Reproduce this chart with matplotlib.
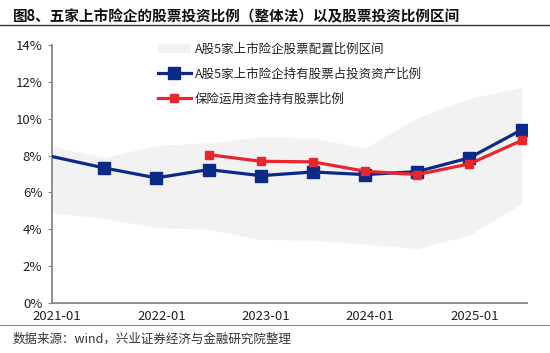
import matplotlib
matplotlib.use("Agg")
import matplotlib.pyplot as plt
import matplotlib.transforms as mtransforms
from matplotlib.patches import Patch
from matplotlib.lines import Line2D

plt.rcParams['font.family'] = ['Noto Sans CJK SC', 'DejaVu Sans']

# semi-annual observations, labels shown on every second point
periods = ["2021-01", "2021-06", "2022-01", "2022-06", "2023-01",
           "2023-06", "2024-01", "2024-06", "2025-01", "2025-06"]
tick_labels = ["2021-01", "2022-01", "2023-01", "2024-01", "2025-01"]

band_low = [4.9, 4.6, 4.1, 4.0, 3.45, 3.4, 3.2, 2.95, 3.7, 5.4]
band_high = [8.5, 7.9, 8.55, 8.7, 9.0, 8.95, 8.4, 10.05, 11.1, 11.7]
listed_ratio = [7.95, 7.33, 6.79, 7.24, 6.91, 7.11, 6.97, 7.13, 7.88, 9.4]
industry_ratio = [None, None, None, 8.05, 7.69, 7.66, 7.15, 6.97, 7.55, 8.82]

band_label = "A股5家上市险企股票配置比例区间"
listed_label = "A股5家上市险企持有股票占投资资产比例"
industry_label = "保险运用资金持有股票比例"

blue = "#0b2a88"
red = "#e8262b"
band_color = "#f2f2f2"

fig = plt.figure(figsize=(5.5, 3.53), dpi=100)
ax = fig.add_axes([0.0945, 0.1416, 0.8635, 0.7309])

x = list(range(len(periods)))
ax.fill_between(x, band_low, band_high, color=band_color, linewidth=0, zorder=1)

ax.plot(x, listed_ratio, color=blue, linewidth=2.3, marker="s", markersize=8,
        markevery=list(range(1, len(x))), zorder=3)
xi = [i for i, v in enumerate(industry_ratio) if v is not None]
yi = [v for v in industry_ratio if v is not None]
ax.plot(xi, yi, color=red, linewidth=2.3, marker="s", markersize=5.5, zorder=4)

ax.set_xlim(0, 9.1)
ax.set_ylim(0, 14)
ax.set_yticks(range(0, 15, 2))
ax.set_yticklabels([f"{v}%" for v in range(0, 15, 2)])
ax.set_xticks([periods.index(t) for t in tick_labels])
ax.set_xticklabels(tick_labels)

for s in ["top", "right"]:
    ax.spines[s].set_visible(False)
for s in ["left", "bottom"]:
    ax.spines[s].set_color("#868686")
    ax.spines[s].set_linewidth(1.3)
ax.tick_params(axis="y", length=3, color="#868686", labelsize=9.5, labelcolor="#222222", pad=4)
ax.tick_params(axis="x", length=0, labelsize=9.5, labelcolor="#222222", pad=5)

# date labels sit slightly right of the data points, as in the source chart
shift = mtransforms.ScaledTranslation(5 / 100, 0, fig.dpi_scale_trans)
for lbl in ax.get_xticklabels():
    lbl.set_transform(lbl.get_transform() + shift)

handles = [
    Patch(facecolor=band_color, edgecolor="none"),
    Line2D([], [], color=blue, linewidth=2.3, marker="s", markersize=8),
    Line2D([], [], color=red, linewidth=2.3, marker="s", markersize=5.5),
]
ax.legend(handles, [band_label, listed_label, industry_label],
          loc="upper left", bbox_to_anchor=(0.2, 1.052), frameon=False,
          fontsize=9, labelspacing=0.95, handlelength=2.6, handletextpad=0.3,
          labelcolor="#222222")

fig.text(0.024, 0.955, "图8、五家上市险企的股票投资比例（整体法）以及股票投资比例区间",
         fontsize=10.5, fontweight="bold", va="center", color="#111111")
fig.add_artist(Line2D([0.0, 1.0], [0.928, 0.928], color="#333333", linewidth=1.0))
fig.add_artist(Line2D([0.0, 1.0], [0.079, 0.079], color="#888888", linewidth=0.8))
fig.text(0.022, 0.038, "数据来源：wind，兴业证券经济与金融研究院整理",
         fontsize=9, va="center", color="#333333")

fig.savefig("out.png", dpi=100)
